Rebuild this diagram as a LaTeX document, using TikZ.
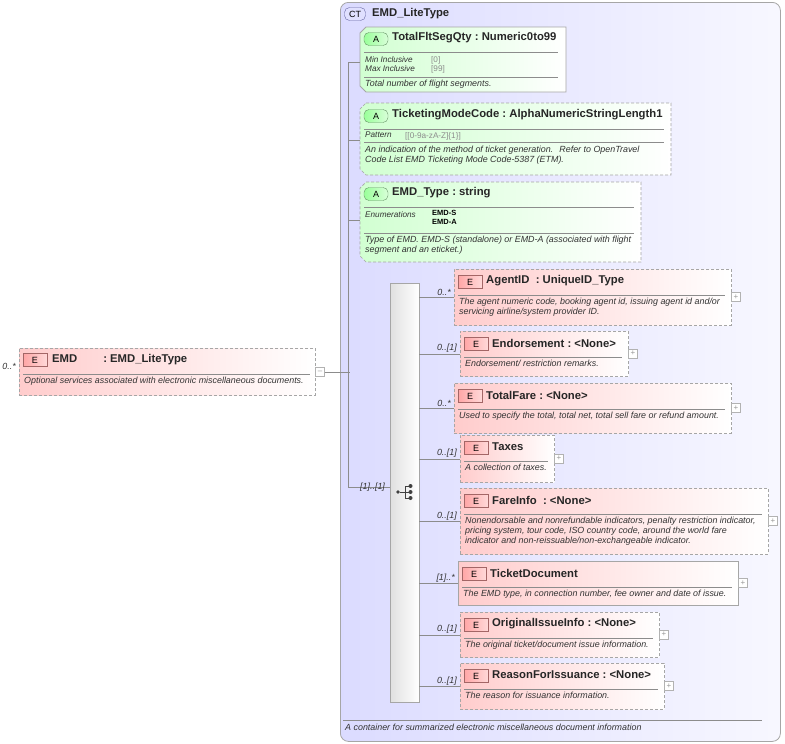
\documentclass[tikz,border=0pt]{standalone}
\usepackage{fontspec}
\setmainfont{Liberation Sans}
\begin{document}
\begin{tikzpicture}[x=1pt,y=-1pt,
  line/.style={draw=black!45,line width=0.6pt},
  ebox/.style={draw=black!35,line width=0.7pt,left color=red!20,right color=white,minimum height=0pt,anchor=north west,inner sep=0pt},
  abox/.style={draw=black!35,line width=0.7pt,left color=green!18,right color=white},
  dsh/.style={dash pattern=on 3pt off 2pt},
  ebadge/.style={draw=red!40!black!60,left color=red!35,right color=red!15,minimum width=24pt,minimum height=13pt,inner sep=0pt,font=\fontsize{9}{9}\selectfont},
  abadge/.style={draw=green!30!black!60,left color=green!40,right color=green!15,rounded corners=5pt,minimum width=24pt,minimum height=13pt,inner sep=0pt,font=\fontsize{9}{9}\selectfont},
  ttl/.style={anchor=west,inner sep=0pt,font=\bfseries\fontsize{11.3}{13}\selectfont,text=black!85},
  dsc/.style={anchor=north west,inner sep=0pt,font=\itshape\fontsize{8.9}{10}\selectfont,align=left,text=black!80},
  mult/.style={anchor=east,inner sep=0pt,font=\itshape\fontsize{8.9}{10}\selectfont,text=black!80},
  pm/.style={draw=black!30,fill=white,minimum size=9pt,inner sep=0pt,font=\fontsize{8}{8}\selectfont,text=black!40},
  sep/.style={draw=black!45,line width=0.5pt}]
\useasboundingbox (0,0) rectangle (785,744);
% CT box
\node[draw=black!35,line width=0.8pt,rounded corners=8pt,left color=blue!14,right color=blue!3,minimum width=440pt,minimum height=739pt,anchor=north west,inner sep=0pt] (ct) at (340,2) {};
\node[draw=blue!40!black!60,fill=blue!12,rounded corners=5pt,minimum width=21pt,minimum height=13pt,inner sep=0pt,font=\fontsize{9}{9}\selectfont] (ctb) at (355,14) {CT};
\node[ttl] (ctt) at (372,14) {EMD\_LiteType};
\draw[sep] (343,720) -- (762,720);
\node[dsc] (ctd) at (345,724) {A container for summarized electronic miscellaneous document information};
% attribute boxes
\path[abox,line width=0.8pt] (366,27) -- (566,27) -- (566,92) -- (366,92) -- (360,86) -- (360,33) -- cycle;
\coordinate (a1) at (360,62);
\node[abadge] (a1b) at (376,39) {A};
\node[ttl] (a1t) at (392,38) {TotalFltSegQty\ :\ Numeric0to99};
\draw[sep] (364,52) -- (558,52);
\node[dsc,font=\itshape\fontsize{8.2}{9}\selectfont] (a1m) at (365,56) {Min Inclusive\\Max Inclusive};
\node[dsc,font=\fontsize{8.2}{9}\selectfont,text=black!45] (a1v) at (431,56) {[0]\\{}[99]};
\draw[sep] (364,77) -- (558,77);
\node[dsc] (a1d) at (365,80) {Total number of flight segments.};

\path[abox,dsh] (366,103) -- (671,103) -- (671,175) -- (366,175) -- (360,169) -- (360,109) -- cycle;
\coordinate (a2) at (360,140);
\node[abadge] (a2b) at (376,116) {A};
\node[ttl] (a2t) at (392,115) {TicketingModeCode\ :\ AlphaNumericStringLength1};
\draw[sep] (364,129) -- (664,129);
\node[dsc,font=\itshape\fontsize{8.2}{9}\selectfont] (a2m) at (365,132) {Pattern};
\node[dsc,font=\fontsize{8.2}{9}\selectfont,text=black!45] (a2v) at (405,132) {[[0-9a-zA-Z]\{1\}]};
\draw[sep] (364,142) -- (664,142);
\node[dsc] (a2d) at (365,146) {An indication of the method of ticket generation.\,\, Refer to OpenTravel\\Code List EMD Ticketing Mode Code-5387 (ETM).};

\path[abox,dsh] (366,182) -- (641,182) -- (641,262) -- (366,262) -- (360,256) -- (360,188) -- cycle;
\coordinate (a3) at (360,220);
\node[abadge] (a3b) at (376,194) {A};
\node[ttl] (a3t) at (392,193) {EMD\_Type\ :\ string};
\draw[sep] (364,207) -- (634,207);
\node[dsc,font=\itshape\fontsize{8.2}{9}\selectfont] (a3m) at (365,211) {Enumerations};
\node[dsc,font=\bfseries\fontsize{7.5}{9.5}\selectfont,text=black] (a3v) at (432,210) {EMD-S\\EMD-A};
\draw[sep] (364,233) -- (634,233);
\node[dsc] (a3d) at (365,236) {Type of EMD. EMD-S (standalone) or EMD-A (associated with flight\\segment and an eticket.)};
% tree lines
\coordinate (tv1) at (348,62);
\coordinate (tv2) at (348,487);
\draw[line] (tv1) -- (tv2);
\draw[line] (tv1) -- (a1);
\draw[line] (348,140) -- (a2);
\draw[line] (348,220) -- (a3);
% EMD element
\node[ebox,dsh,minimum width=296pt,minimum height=47pt] (emd) at (19,348) {};
\node[ebadge] (emdb) at (35,360) {E};
\node[ttl] (emdt) at (52,360) {EMD\hspace{26pt}:\ EMD\_LiteType};
\draw[sep] (23,374) -- (310,374);
\node[dsc] (emdd) at (24,377) {Optional services associated with electronic miscellaneous documents.};
\node[mult] (emdm) at (16,366) {0..*};
\node[pm] (emdpm) at (320,372) {--};
\draw[line] (emdpm.east) -- (350,372);
% sequence
\node[draw=black!35,left color=black!12,right color=white,minimum width=29pt,minimum height=419pt,anchor=north west,inner sep=0pt] (seq) at (390,283) {};
\draw[line] (tv2) -- (seq.west |- tv2);
\node[mult,anchor=west] (seqm) at (360,487) {[1]..[1]};
% sequence icon
\begin{scope}[shift={(406,492)}]
\fill[black!75] (-8,0) circle (1.8pt);
\draw[black!75,line width=0.9pt] (-6,0) -- (-1,0) (-1,-6) -- (-1,6) (-1,-6) -- (3,-6) (-1,0) -- (3,0) (-1,6) -- (3,6);
\fill[black!75] (4.5,-6) circle (2pt) (4.5,0) circle (2pt) (4.5,6) circle (2pt);
\end{scope}
% children
\newcommand\child[9]{% name,x,y,w,h,style,title,desc,mult
  \node[ebox,#6,minimum width=#4pt,minimum height=#5pt] (#1) at (#2,#3) {};
  \node[ebadge] (#1b) at ({#2+16},{#3+13}) {E};
  \node[ttl] (#1t) at ({#2+32},{#3+12}) {#7};
  \draw[sep] ({#2+4},{#3+26}) -- ({#2+#4-6},{#3+26});
  \node[dsc] (#1d) at ({#2+5},{#3+29}) {#8};
  \node[pm] (#1p) at ({#2+#4+5},{#3+#5/2}) {+};
  \draw[line] (seq.east |- #1.west) -- (#1.west);
  \node[mult] (#1m) at ({#2-3},{#3+#5/2-5}) {#9};
}
\child{agent}{454}{269}{277}{56}{dsh}{AgentID\ \ :\ UniqueID\_Type}{The agent numeric code, booking agent id, issuing agent id and/or\\servicing airline/system provider ID.}{0..*}
\child{endo}{460}{331}{168}{45}{dsh}{Endorsement\ :\ <None>}{Endorsement/ restriction remarks.}{0..[1]}
\child{fare}{454}{383}{277}{50}{dsh}{TotalFare\ :\ <None>}{Used to specify the total, total net, total sell fare or refund amount.}{0..*}
\child{tax}{460}{435}{94}{47}{dsh}{Taxes}{A collection of taxes.}{0..[1]}
\child{fi}{460}{488}{308}{66}{dsh}{FareInfo\ \ :\ <None>}{Nonendorsable and nonrefundable indicators, penalty restriction indicator,\\pricing system, tour code, ISO country code, around the world fare\\indicator and non-reissuable/non-exchangeable indicator.}{0..[1]}
\child{td}{458}{561}{280}{44}{solid}{TicketDocument}{The EMD type, in connection number, fee owner and date of issue.}{[1]..*}
\child{oi}{460}{612}{199}{45}{dsh}{OriginalIssueInfo\ :\ <None>}{The original ticket/document issue information.}{0..[1]}
\child{rfi}{460}{663}{204}{46}{dsh}{ReasonForIssuance\ :\ <None>}{The reason for issuance information.}{0..[1]}
\end{tikzpicture}
\end{document}
